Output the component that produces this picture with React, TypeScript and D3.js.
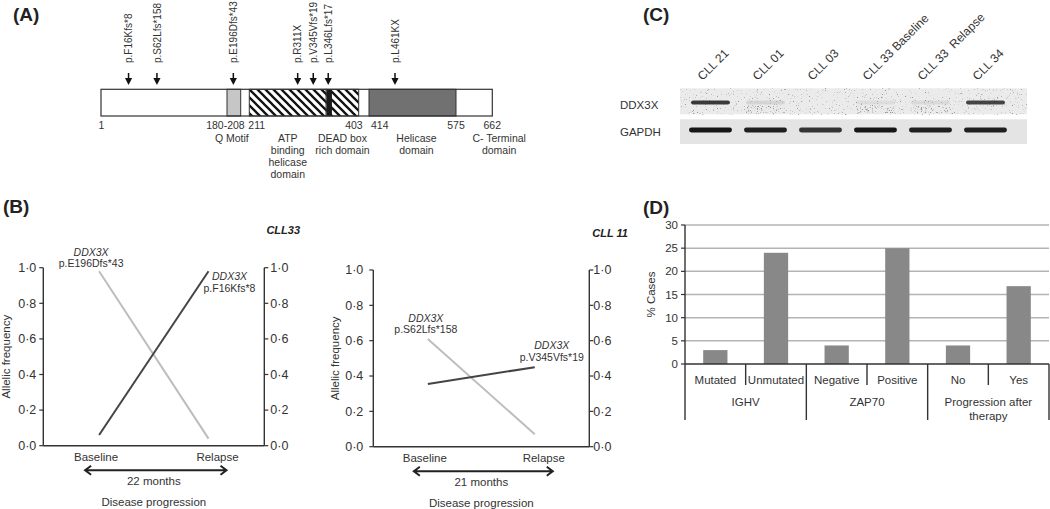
import React from "react";
import * as d3 from "d3";

const FONT = "'Liberation Sans', Arial, Helvetica, sans-serif";
const INK = "#333";

// ---------------- (A) DDX3X protein schematic ----------------
const domainBounds = [1, 180, 208, 211, 403, 414, 575, 662];
const domainLabels = [
  ["Q Motif"],
  ["ATP", "binding", "helicase", "domain"],
  ["DEAD box", "rich domain"],
  ["Helicase", "domain"],
  ["C- Terminal", "domain"],
];
const domainStarts = [180, 211, 346, 414, 575];
const domainEnds = [208, 346, 403, 575, 662];
const domainKinds = ["light", "hatch", "hatch", "dark", "none"];
const deadMotif = [347, 356];
const residueTicks = ["1", "180-208", "211", "403", "414", "575", "662"];
const residueTickValues = [1, 208, 211, 403, 414, 575, 662];
const mutations = ["p.F16Kfs*8", "p.S62Lfs*158", "p.E196Dfs*43", "p.R311X", "p.V345Vfs*19", "p.L346Lfs*17", "p.L461KX"];
const mutationResidues = [16, 62, 196, 311, 345, 346, 461];

// ---------------- (B) allelic frequency ----------------
const timepoints = ["Baseline", "Relapse"];
const cll33Dark = [0.06, 0.98];
const cll33Light = [0.98, 0.04];
const cll11Dark = [0.355, 0.45];
const cll11Light = [0.61, 0.07];
const afTicks = [0, 0.2, 0.4, 0.6, 0.8, 1.0];

// ---------------- (C) western blot ----------------
const lanes = ["CLL 21", "CLL 01", "CLL 03", "CLL 33 Baseline", "CLL 33  Relapse", "CLL 34"];
const ddx3xLevel = [0.85, 0.1, 0, 0.06, 0.08, 0.8];
const gapdhLevel = [1, 0.95, 0.85, 1, 0.95, 0.95];

// ---------------- (D) % cases ----------------
const dCategories = ["Mutated", "Unmutated", "Negative", "Positive", "No", "Yes"];
const dValues = [3, 24, 4, 25, 4, 16.8];
const dGroups = [["IGHV"], ["ZAP70"], ["Progression after", "therapy"]];
const dGroupOf = [0, 0, 1, 1, 2, 2];
const dTicks = [0, 5, 10, 15, 20, 25, 30];

const fmt = (v: number) => v.toFixed(1).replace(".", "\u00B7");

function PanelA() {
  const x = d3.scaleLinear().domain(domainBounds).range([101, 227, 240.7, 249.3, 358.7, 369, 456, 492.3]);
  const nudge = [17, 13, -1.5, -8.6, -12.4, 2, 0.6];
  const labelDx = [-2, 0, 0, 4, 25];
  const tickAnchor = ["middle", "end", "start", "end", "start", "middle", "middle"];
  const tickDx = [0.5, 4, -1, 4, 2, 0, 0];
  const top = 89.3, bot = 116;
  const fills: Record<string, string> = { light: "#c6c6c6", hatch: "url(#hatch)", dark: "#717171", none: "none" };
  return (
    <g>
      <text x={13} y={21} fontSize={19} fontWeight="bold" fill="#222">(A)</text>
      {domainStarts.map((s, i) =>
        domainKinds[i] === "none" ? null : (
          <rect key={i} x={x(s)} y={top} width={x(domainEnds[i]) - x(s)} height={bot - top} fill={fills[domainKinds[i]]} stroke={INK} strokeWidth={1} />
        )
      )}
      <rect x={x(deadMotif[0])} y={top} width={x(deadMotif[1]) - x(deadMotif[0])} height={bot - top} fill="#1a1a1a" />
      <rect x={x(1)} y={top} width={x(662) - x(1)} height={bot - top} fill="none" stroke={INK} strokeWidth={1.2} />
      {residueTickValues.map((v, i) => (
        <text key={i} x={x(v) + tickDx[i]} y={128.5} fontSize={10.5} textAnchor={tickAnchor[i] as any} fill={INK}>{residueTicks[i]}</text>
      ))}
      {domainLabels.map((lines, i) => {
        const cx = (x(domainStarts[i]) + x(domainEnds[i])) / 2 + labelDx[i];
        return lines.map((l, j) => (
          <text key={i + "-" + j} x={cx} y={141.5 + j * 12.3} fontSize={10.5} textAnchor="middle" fill={INK}>{l}</text>
        ));
      })}
      {mutations.map((m, i) => {
        const ax = x(mutationResidues[i]) + nudge[i];
        return (
          <g key={m}>
            <text transform={`translate(${ax + 3.6},63) rotate(-90)`} fontSize={10} fill={INK}>{m}</text>
            <line x1={ax} x2={ax} y1={73} y2={79} stroke="#111" strokeWidth={1.5} />
            <path d={`M${ax - 3.6},78 L${ax + 3.6},78 L${ax},85 Z`} fill="#111" />
          </g>
        );
      })}
    </g>
  );
}

function AlleleChart(props: any) {
  const { x0, x1, yTop, yBottom, dark, light, title, titleX, titleY, months, yTitleX, lightMut, darkMut, annLight, annDark, leftTickGap, rightTickGap } = props;
  const xs = d3.scalePoint().domain(timepoints).range([x0, x1]).padding(0.51);
  const y = d3.scaleLinear().domain([0, 1]).range([yBottom, yTop]);
  const line = d3.line<number>().x((_, i) => xs(timepoints[i]) as number).y((d) => y(d));
  const xb = xs("Baseline") as number, xr = xs("Relapse") as number;
  const mid = (xb + xr) / 2;
  const aY = yBottom + 24.5;
  const aL = xb - 14, aR = xr + 18;
  const lightStart = [xb, y(light[0])];
  const darkEnd = [xr, y(dark[1])];
  return (
    <g>
      <text x={titleX} y={titleY} fontSize={11} fontWeight="bold" fontStyle="italic" textAnchor="end" fill="#222">{title}</text>
      <line x1={x0} x2={x0} y1={yTop} y2={yBottom} stroke={INK} strokeWidth={1.4} />
      <line x1={x1} x2={x1} y1={yTop} y2={yBottom} stroke={INK} strokeWidth={1.4} />
      <line x1={x0} x2={x1} y1={yBottom} y2={yBottom} stroke={INK} strokeWidth={1.4} />
      {afTicks.map((t) => (
        <g key={t}>
          <line x1={x0 - 4} x2={x0} y1={y(t)} y2={y(t)} stroke={INK} strokeWidth={1.2} />
          <line x1={x1} x2={x1 + 4} y1={y(t)} y2={y(t)} stroke={INK} strokeWidth={1.2} />
          <text x={x0 - leftTickGap} y={y(t) + 4.3} fontSize={12.5} textAnchor="end" fill={INK}>{fmt(t)}</text>
          <text x={x1 + rightTickGap} y={y(t) + 4.3} fontSize={12.5} textAnchor="start" fill={INK}>{fmt(t)}</text>
        </g>
      ))}
      <text transform={`translate(${yTitleX},${(yTop + yBottom) / 2}) rotate(-90)`} fontSize={11.5} textAnchor="middle" fill={INK}>Allelic frequency</text>
      <path d={line(light) as string} fill="none" stroke="#bdbdbd" strokeWidth={2} />
      <path d={line(dark) as string} fill="none" stroke="#444" strokeWidth={2} />
      <text x={lightStart[0] + annLight[0]} y={lightStart[1] + annLight[1] - 11} fontSize={10.5} fontStyle="italic" textAnchor="middle" fill={INK}>DDX3X</text>
      <text x={lightStart[0] + annLight[0]} y={lightStart[1] + annLight[1]} fontSize={10.5} textAnchor="middle" fill={INK}>{lightMut}</text>
      <text x={darkEnd[0] + annDark[0]} y={darkEnd[1] + annDark[1] - 11.5} fontSize={10.5} fontStyle="italic" textAnchor="middle" fill={INK}>DDX3X</text>
      <text x={darkEnd[0] + annDark[0]} y={darkEnd[1] + annDark[1]} fontSize={10.5} textAnchor="middle" fill={INK}>{darkMut}</text>
      <text x={xb - 3} y={yBottom + 15.5} fontSize={11.5} textAnchor="middle" fill={INK}>Baseline</text>
      <text x={xr + 9} y={yBottom + 15.5} fontSize={11.5} textAnchor="middle" fill={INK}>Relapse</text>
      <path d={`M${aL},${aY} L${aR},${aY} M${aL + 6},${aY - 4.5} L${aL},${aY} L${aL + 6},${aY + 4.5} M${aR - 6},${aY - 4.5} L${aR},${aY} L${aR - 6},${aY + 4.5}`} fill="none" stroke="#222" strokeWidth={2} />
      <text x={mid} y={yBottom + 39} fontSize={11.5} textAnchor="middle" fill={INK}>{months}</text>
      <text x={mid} y={yBottom + 60} fontSize={11.5} textAnchor="middle" fill={INK}>Disease progression</text>
    </g>
  );
}

function PanelB() {
  return (
    <g>
      <text x={3} y={213} fontSize={19} fontWeight="bold" fill="#222">(B)</text>
      <AlleleChart x0={43.3} x1={264.3} yTop={267.7} yBottom={445.7} dark={cll33Dark} light={cll33Light}
        title="CLL33" titleX={300} titleY={234} months="22 months" yTitleX={10}
        lightMut="p.E196Dfs*43" darkMut="p.F16Kfs*8" annLight={[-8, -4.7]} annDark={[21, 20.5]} leftTickGap={7} rightTickGap={6} />
      <AlleleChart x0={373.3} x1={589.3} yTop={270} yBottom={446.7} dark={cll11Dark} light={cll11Light}
        title="CLL 11" titleX={628} titleY={237} months="21 months" yTitleX={339}
        lightMut="p.S62Lfs*158" darkMut="p.V345Vfs*19" annLight={[-2, -6]} annDark={[17, -6.5]} leftTickGap={10} rightTickGap={4} />
    </g>
  );
}

function PanelC() {
  const lx = d3.scaleBand().domain(lanes).range([683, 1013]).paddingInner(0.22).paddingOuter(0.11);
  const bw = lx.bandwidth();
  return (
    <g>
      <text x={643} y={21} fontSize={19} fontWeight="bold" fill="#222">(C)</text>
      {lanes.map((l) => {
        const cx = (lx(l) as number) + bw / 2;
        return (
          <text key={l} transform={`translate(${cx - 8},81) rotate(-45)`} fontSize={12} fill={INK} style={{ whiteSpace: "pre" }}>{l}</text>
        );
      })}
      <text x={620} y={109} fontSize={11.5} fill={INK}>DDX3X</text>
      <text x={620} y={135.5} fontSize={11.5} fill={INK}>GAPDH</text>
      <rect x={680} y={88.3} width={347} height={26} fill="#ebebeb" />
      <rect x={680} y={88.3} width={347} height={26} filter="url(#speckle)" fill="#000" />
      {lanes.map((l, i) => (
        <g key={l}>
          <rect x={(lx(l) as number) + 2} y={100.5} width={bw - 4} height={4} rx={2} fill="#1e1e1e" opacity={ddx3xLevel[i]} filter="url(#soft)" />
          {ddx3xLevel[i] > 0.04 && ddx3xLevel[i] < 0.3 ? (
            <rect x={(lx(l) as number) + 2} y={106} width={bw - 4} height={7} fill="#000" filter="url(#speckle2)" />
          ) : null}
        </g>
      ))}
      <rect x={680} y={119.3} width={347} height={24.7} fill="#e4e4e4" />
      {lanes.map((l, i) => (
        <rect key={l} x={(lx(l) as number)} y={127.6} width={bw} height={4.8} rx={2.4} fill="#141414" opacity={gapdhLevel[i]} filter="url(#soft)" />
      ))}
    </g>
  );
}

function PanelD() {
  const x0 = 685, x1 = 1049, yTop = 225, yBottom = 364;
  const xb = d3.scaleBand().domain(dCategories).range([x0, x1]).paddingInner(0.6).paddingOuter(0.3);
  const y = d3.scaleLinear().domain([0, 30]).range([yBottom, yTop]);
  const step = xb.step();
  const bw = xb.bandwidth();
  const rightEdge = (c: string) => (xb(c) as number) + bw + (step - bw) / 2;
  const groupCenters = dGroups.map((_, g) => {
    const cats = dCategories.filter((_, i) => dGroupOf[i] === g);
    const l = (xb(cats[0]) as number) - (step - bw) / 2;
    const r = rightEdge(cats[cats.length - 1]);
    return (l + r) / 2;
  });
  return (
    <g>
      <text x={643} y={214} fontSize={19} fontWeight="bold" fill="#222">(D)</text>
      {dTicks.map((t) => (
        <g key={t}>
          {t > 0 ? <line x1={x0} x2={x1} y1={y(t)} y2={y(t)} stroke="#b4b4b4" strokeWidth={1.5} /> : null}
          <line x1={x0 - 4} x2={x0} y1={y(t)} y2={y(t)} stroke={INK} strokeWidth={1.2} />
          <text x={x0 - 7} y={y(t) + 4} fontSize={11.5} textAnchor="end" fill={INK}>{t}</text>
        </g>
      ))}
      {dCategories.map((c, i) => (
        <rect key={c} x={xb(c)} y={y(dValues[i])} width={bw} height={yBottom - y(dValues[i])} fill="#888" />
      ))}
      <line x1={x0} x2={x1} y1={yBottom} y2={yBottom} stroke={INK} strokeWidth={1.5} />
      <line x1={x0} x2={x0} y1={yTop} y2={420} stroke={INK} strokeWidth={1.4} />
      {dCategories.map((c, i) => {
        const last = i === dCategories.length - 1 || dGroupOf[i + 1] !== dGroupOf[i];
        const ex = rightEdge(c);
        return <line key={c} x1={ex} x2={ex} y1={yBottom} y2={last ? 420 : 385} stroke={INK} strokeWidth={1.4} />;
      })}
      {dCategories.map((c) => (
        <text key={c} x={(xb(c) as number) + bw / 2} y={384} fontSize={11.5} textAnchor="middle" fill={INK}>{c}</text>
      ))}
      {dGroups.map((lines, g) =>
        lines.map((l, j) => (
          <text key={g + "-" + j} x={groupCenters[g]} y={405.5 + j * 14} fontSize={11.5} textAnchor="middle" fill={INK}>{l}</text>
        ))
      )}
      <text transform={`translate(655,${(yTop + yBottom) / 2}) rotate(-90)`} fontSize={11.5} textAnchor="middle" fill={INK}>% Cases</text>
    </g>
  );
}

export default function App() {
  return (
    <svg width={1050} height={509} fontFamily={FONT} style={{ position: "absolute", left: 0, top: 0, display: "block", background: "#fff" }}>
      <defs>
        <pattern id="hatch" patternUnits="userSpaceOnUse" width={8} height={8}>
          <rect width={8} height={8} fill="#fff" />
          <path d="M-2,-2 L10,10 M-2,6 L2,10 M6,-2 L10,2" stroke="#111" strokeWidth={2.3} />
        </pattern>
        <filter id="speckle" x="0" y="0" width="100%" height="100%">
          <feTurbulence type="fractalNoise" baseFrequency="0.75" numOctaves={2} seed={7} />
          <feColorMatrix type="matrix" values="0 0 0 0 0.3  0 0 0 0 0.3  0 0 0 0 0.3  7 0 0 0 -4.6" />
        </filter>
        <filter id="speckle2" x="0" y="0" width="100%" height="100%">
          <feTurbulence type="fractalNoise" baseFrequency="0.8" numOctaves={2} seed={3} />
          <feColorMatrix type="matrix" values="0 0 0 0 0.3  0 0 0 0 0.3  0 0 0 0 0.3  6 0 0 0 -3.6" />
        </filter>
        <filter id="soft" x="-10%" y="-100%" width="120%" height="300%">
          <feGaussianBlur stdDeviation={0.7} />
        </filter>
      </defs>
      <PanelA />
      <PanelB />
      <PanelC />
      <PanelD />
    </svg>
  );
}
